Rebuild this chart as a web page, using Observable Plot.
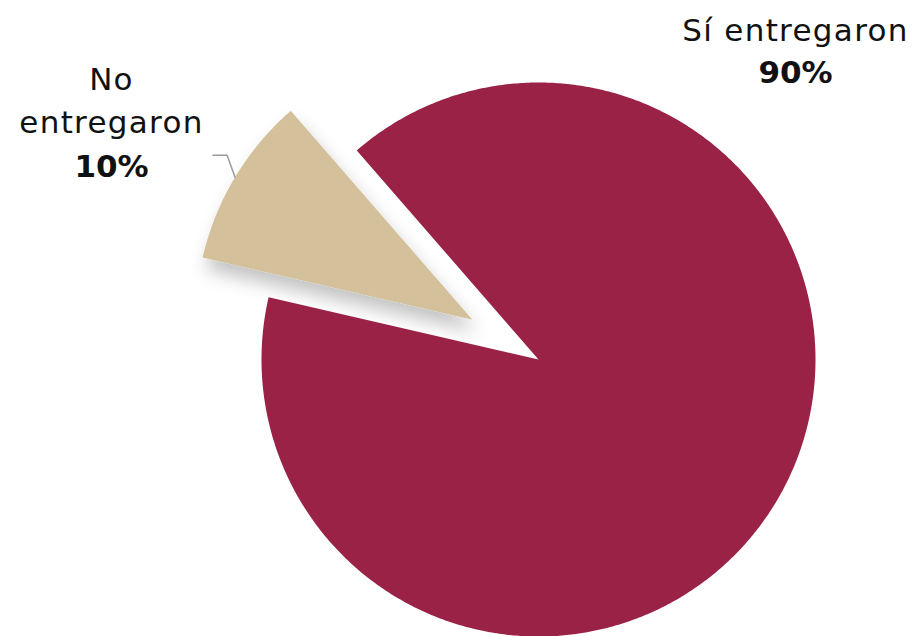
<!DOCTYPE html>
<html>
<head>
<meta charset="utf-8">
<script src="https://cdn.jsdelivr.net/npm/d3@7"></script>
<script src="https://cdn.jsdelivr.net/npm/@observablehq/plot@0.6"></script>
<style>
  html, body { margin: 0; padding: 0; background: #ffffff; }
  #chart { width: 917px; height: 636px; }
</style>
</head>
<body>
<div id="chart"></div>
<script>
// ---- data ----
const categories = ["Sí entregaron", "No entregaron"];
const values = [90, 10];
const percentLabels = ["90%", "10%"];
const colors = ["#9B2247", "#D4C19C"];

// ---- layout ----
const W = 917, H = 636;
const cx = 538, cy = 359, R = 277;
const startDeg = -41;
const explode = [0, 77];
const labelPos = [
  {x: 795, nameY: 40, pctY: 82, wrap: false},
  {x: 111, nameY: 132, pctY: 176, wrap: true}
];
const fontSize = 31;

const pie = d3.pie().sort(null)
  .startAngle(startDeg * Math.PI / 180)
  .endAngle(startDeg * Math.PI / 180 + 2 * Math.PI)(values);

const slices = pie.map((a, i) => {
  const mid = (a.startAngle + a.endAngle) / 2;
  const ox = cx + explode[i] * Math.sin(mid);
  const oy = cy - explode[i] * Math.cos(mid);
  const pts = [{x: ox, y: oy}];
  const steps = Math.max(8, Math.ceil((a.endAngle - a.startAngle) / (Math.PI / 360)));
  for (let k = 0; k <= steps; k++) {
    const t = a.startAngle + (a.endAngle - a.startAngle) * k / steps;
    pts.push({x: ox + R * Math.sin(t), y: oy - R * Math.cos(t)});
  }
  return {i, pts, mid, ox, oy, color: colors[i]};
});

// leader line for the small slice (ends on its outer arc at mid-angle)
const s1 = slices[1];
const endP = {x: s1.ox + R * Math.sin(s1.mid), y: s1.oy - R * Math.cos(s1.mid)};
const leader = [
  {x: endP.x - 22, y: endP.y - 22},
  {x: endP.x - 8, y: endP.y - 22},
  endP
];

const nameData = categories.map((c, i) => ({
  text: labelPos[i].wrap ? c.replace(" ", "\n") : c,
  x: labelPos[i].x, y: labelPos[i].nameY
}));
const pctData = percentLabels.map((p, i) => ({text: p, x: labelPos[i].x, y: labelPos[i].pctY}));

const order = [1, 0]; // draw small slice (with shadow) beneath the big one
const plot = Plot.plot({
  width: W, height: H,
  margin: 0,
  x: {domain: [0, W], range: [0, W], axis: null},
  y: {domain: [0, H], range: [0, H], axis: null},
  style: {background: "#ffffff", overflow: "visible"},
  marks: [
    ...order.map(i => Plot.line(slices[i].pts, {x: "x", y: "y", fill: slices[i].color, stroke: "none", curve: "linear"})),
    Plot.line(leader, {x: "x", y: "y", stroke: "#9a9a9a", strokeWidth: 1.5}),
    Plot.text(nameData, {x: "x", y: "y", text: "text", lineAnchor: "bottom", textAnchor: "middle",
      fontFamily: "DejaVu Sans", fontWeight: 300, fontSize: fontSize, lineHeight: 1.38, fill: "#111"}),
    Plot.text(pctData, {x: "x", y: "y", text: "text", lineAnchor: "bottom", textAnchor: "middle",
      fontFamily: "DejaVu Sans", fontWeight: "bold", fontSize: fontSize, fill: "#111"})
  ]
});

const svg = d3.select(plot);
svg.insert("defs", ":first-child").html(
  '<filter id="sh" x="-40%" y="-40%" width="180%" height="180%">' +
  '<feDropShadow dx="4" dy="12" stdDeviation="9" flood-color="#000" flood-opacity="0.24"/></filter>');
svg.selectAll('g[aria-label="line"]')
  .filter(function () { return this.getAttribute("fill") === colors[1]; })
  .attr("filter", "url(#sh)");
svg.selectAll('g[aria-label="text"]')
  .filter(function () { return this.getAttribute("font-weight") === "300"; })
  .attr("font-weight", "normal")
  .attr("letter-spacing", "1.3px");

document.getElementById("chart").appendChild(plot);
</script>
</body>
</html>
